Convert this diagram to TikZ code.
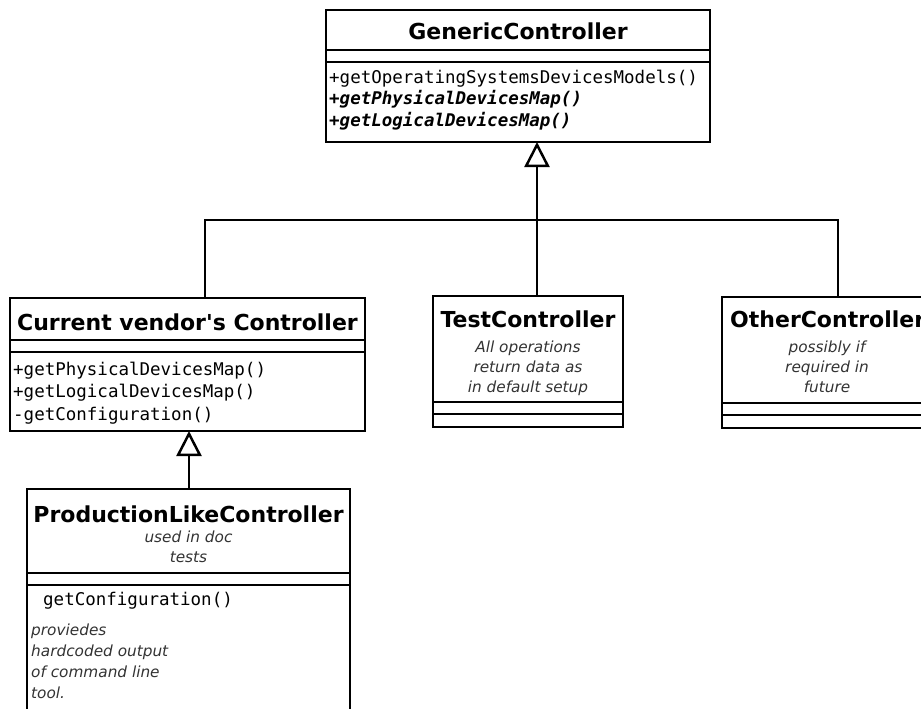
\documentclass[tikz,border=0pt]{standalone}
\usepackage{fontspec}
\setmainfont{DejaVu Sans}
\newfontfamily\umlmono{DejaVu Sans Mono}
\usetikzlibrary{arrows.meta}
\tikzset{
  classbox/.style={draw, line width=2.5pt, fill=white, anchor=north west, inner sep=0pt, outer sep=0pt},
  cname/.style={font=\bfseries\fontsize{22}{26}\selectfont, inner sep=0pt, anchor=base},
  member/.style={font=\umlmono\fontsize{17.5}{23}\selectfont, inner sep=0pt, anchor=base west},
  abstractop/.style={member, font=\umlmono\bfseries\itshape\fontsize{17.5}{23}\selectfont},
  note/.style={font=\itshape\fontsize{15.3}{20}\selectfont, text=black!80, inner sep=0pt, anchor=base},
  notel/.style={note, anchor=base west},
  sepline/.style={line width=2.5pt},
  link/.style={line width=2.5pt, line join=miter},
  inherit/.style={link, -{Triangle[open, length=25pt, width=25pt, line width=2.5pt]}},
}
\begin{document}
\begin{tikzpicture}[x=1pt, y=-1pt]
\useasboundingbox (0,0) rectangle (921,709);
\clip (0,0) rectangle (921,709);

% GenericController
\node[classbox, minimum width=384pt, minimum height=132pt] (gc) at (326,10) {};
\draw[sepline] (326,50) -- (710,50) (326,62) -- (710,62);
\node[cname] (gcname) at (518,40) {GenericController};
\node[member] (gcop1) at (329,83) {+getOperatingSystemsDevicesModels()};
\node[abstractop] (gcop2) at (329,104) {+getPhysicalDevicesMap()};
\node[abstractop] (gcop3) at (329,126) {+getLogicalDevicesMap()};

% Current vendor's Controller
\node[classbox, minimum width=355pt, minimum height=133pt] (cv) at (10,298) {};
\draw[sepline] (10,340) -- (365,340) (10,352) -- (365,352);
\node[cname] (cvname) at (187.5,330) {Current vendor\textquotesingle s Controller};
\node[member] (cvop1) at (13,375) {+getPhysicalDevicesMap()};
\node[member] (cvop2) at (13,397) {+getLogicalDevicesMap()};
\node[member] (cvop3) at (13,420) {-getConfiguration()};

% TestController
\node[classbox, minimum width=190pt, minimum height=131pt] (tc) at (433,296) {};
\draw[sepline] (433,402) -- (623,402) (433,414) -- (623,414);
\node[cname] (tcname) at (528,327) {TestController};
\node[note] (tcn1) at (528,352) {All operations};
\node[note] (tcn2) at (528,372) {return data as};
\node[note] (tcn3) at (528,392) {in default setup};

% OtherController
\node[classbox, minimum width=213pt, minimum height=131pt] (oc) at (722,297) {};
\draw[sepline] (722,403) -- (935,403) (722,415) -- (935,415);
\node[cname, anchor=base west] (ocname) at (730,327) {OtherController};
\node[note] (ocn1) at (827,352) {possibly if};
\node[note] (ocn2) at (827,372) {required in};
\node[note] (ocn3) at (827,392) {future};

% ProductionLikeController
\node[classbox, minimum width=323pt, minimum height=240pt] (pl) at (27,489) {};
\draw[sepline] (27,573) -- (350,573) (27,585) -- (350,585);
\node[cname] (plname) at (188.5,522) {ProductionLikeController};
\node[note] (pln1) at (188.5,542) {used in doc};
\node[note] (pln2) at (188.5,562) {tests};
\node[member] (plop1) at (43,605) {getConfiguration()};
\node[notel] (pld1) at (31,635) {proviedes};
\node[notel] (pld2) at (31,656) {hardcoded output};
\node[notel] (pld3) at (31,677) {of command line};
\node[notel] (pld4) at (31,698) {tool.};

% Generalisation connectors
\coordinate (hub) at (537,220);
\coordinate (cvjoin) at (205,220);
\coordinate (ocjoin) at (838,220);
\coordinate (plup) at (189,460);
\draw[inherit] (tc.north -| hub) -- (gc.south -| hub);
\draw[link] (cv.north -| cvjoin) -- (cvjoin) -- (ocjoin) -- (oc.north -| ocjoin);
\draw[inherit] (pl.north -| plup) -- (cv.south -| plup);
\end{tikzpicture}
\end{document}
